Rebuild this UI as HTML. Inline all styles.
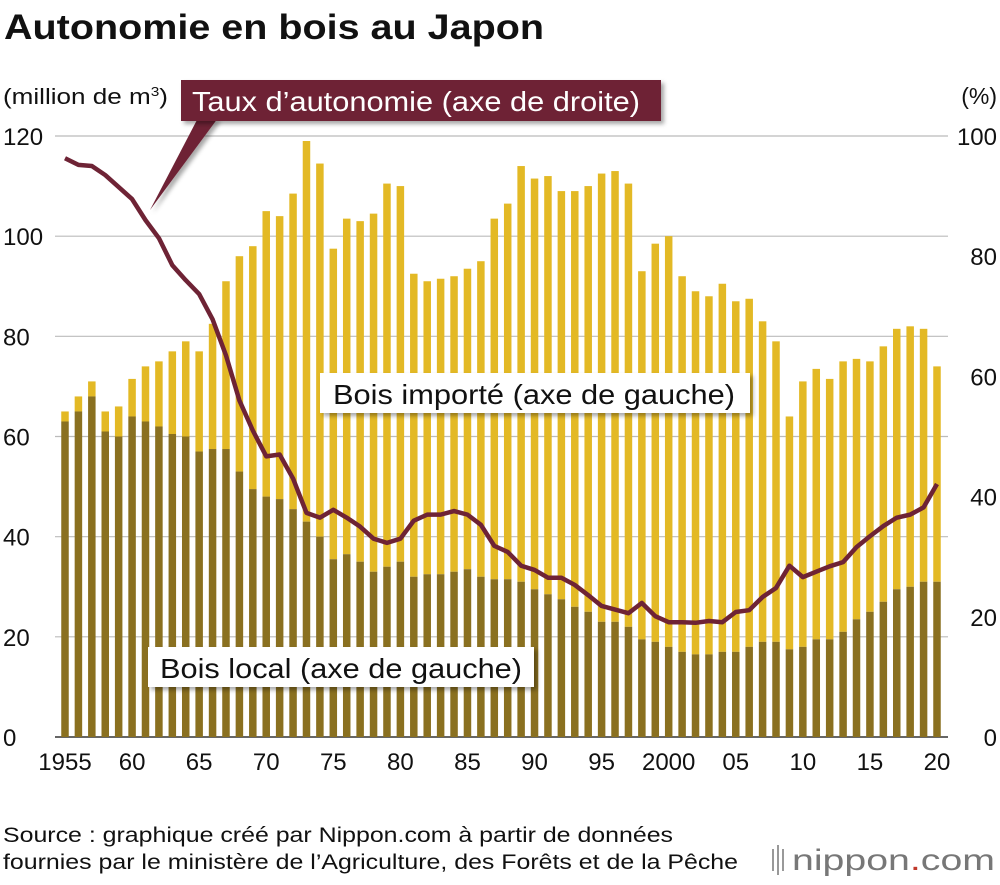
<!DOCTYPE html>
<html><head><meta charset="utf-8"><style>
body{margin:0;background:#fff;font-family:"Liberation Sans",Arial,sans-serif;}
svg text{font-family:"Liberation Sans",Arial,sans-serif;}
</style></head><body>
<svg width="1000" height="880" viewBox="0 0 1000 880">
<defs><filter id="sh" x="-5%" y="-20%" width="115%" height="160%"><feDropShadow dx="3" dy="3" stdDeviation="2" flood-color="#000" flood-opacity="0.35"/></filter></defs>
<text x="4" y="39" font-size="35" font-weight="bold" fill="#111" textLength="540" lengthAdjust="spacingAndGlyphs">Autonomie en bois au Japon</text>
<text x="3" y="104" font-size="22" fill="#111" textLength="165" lengthAdjust="spacingAndGlyphs">(million de m<tspan font-size="13" dy="-8">3</tspan><tspan dy="8">)</tspan></text>
<text x="997" y="104" font-size="23" fill="#111" text-anchor="end">(%)</text>
<g id="grid"></g><g id="bars"></g><g id="line"></g><g id="ticks"></g>
<polygon points="198,118 218,118 150,210" fill="#6e2335" filter="url(#sh)"/>
<rect x="181" y="80" width="480" height="41" fill="#6e2335" filter="url(#sh)"/>
<text x="192" y="111" font-size="28" fill="#fff" textLength="448" lengthAdjust="spacingAndGlyphs">Taux d’autonomie (axe de droite)</text>
<rect x="320" y="373" width="430" height="40" fill="#fff" filter="url(#sh)"/>
<text x="333" y="404" font-size="28" fill="#111" textLength="402" lengthAdjust="spacingAndGlyphs">Bois importé (axe de gauche)</text>
<rect x="148" y="647" width="386" height="40" fill="#fff" filter="url(#sh)"/>
<text x="160" y="678" font-size="28" fill="#111" textLength="362" lengthAdjust="spacingAndGlyphs">Bois local (axe de gauche)</text>
<text x="3" y="842" font-size="21" fill="#111" textLength="670" lengthAdjust="spacingAndGlyphs">Source : graphique créé par Nippon.com à partir de données</text>
<text x="3" y="869" font-size="21" fill="#111" textLength="735" lengthAdjust="spacingAndGlyphs">fournies par le ministère de l’Agriculture, des Forêts et de la Pêche</text>
<g>
<rect x="772" y="849" width="2" height="22" fill="#999"/><rect x="777" y="845" width="2" height="30" fill="#999"/><rect x="782" y="849" width="2" height="22" fill="#999"/>
<text x="792" y="870" font-size="30" fill="#777" textLength="203" lengthAdjust="spacingAndGlyphs">nippon<tspan fill="#c0392b">.</tspan>com</text></g>
</svg>
<script>
const years=[];for(let y=1955;y<=2020;y++)years.push(y);
const totalVol=[65,68,71,65,66,71.5,74,75,77,79,77,82.5,91,96,98,105,104,108.5,119,114.5,97.5,103.5,103,104.5,110.5,110,92.5,91,91.5,92,93.5,95,103.5,106.5,114,111.5,112,109,109,110,112.5,113,110.5,93,98.5,100,92,89,88,90.5,87,87.5,83,79,64,71,73.5,71.5,75,75.5,75,78,81.5,82,81.5,74];
const localVol=[63,65,68,61,60,64,63,62,60.5,60,57,57.5,57.5,53,49.5,48,47.5,45.5,43,40,35.5,36.5,35,33,34,35,32,32.5,32.5,33,33.5,32,31.5,31.5,31,29.5,28.5,27.5,26,25,23,23,22,19.5,19,18,17,16.5,16.5,17,17,18,19,19,17.5,18,19.5,19.5,21,23.5,25,27,29.5,30,31,31];
const selfRate=[96.3,95.2,95,93.5,91.5,89.5,86,83,78.5,76,73.7,69.5,63.5,56,51,46.7,47,43,37.3,36.5,37.8,36.5,35,33,32.3,33,36,37,37,37.6,37,35.3,31.8,30.8,28.5,27.8,26.5,26.5,25.3,23.6,21.8,21.2,20.6,22.3,20.1,19.1,19.1,19,19.3,19.1,20.8,21.1,23.3,24.8,28.5,26.6,27.5,28.4,29.1,31.6,33.4,35.1,36.5,37,38.2,42.1];
const leftTicks=[0,20,40,60,80,100,120];
const rightTicks=[0,20,40,60,80,100];
const xTickYears=[1955,1960,1965,1970,1975,1980,1985,1990,1995,2000,2005,2010,2015,2020];
const xTickLabels=["1955","60","65","70","75","80","85","90","95","2000","05","10","15","20"];
const NS="http://www.w3.org/2000/svg";
const x=y=>65+(y-1955)*(872/65);
const yL=v=>737-v*(601/120);
const yR=v=>737-v*(601/100);
function mk(t,a,p){const e=document.createElementNS(NS,t);for(const k in a)e.setAttribute(k,a[k]);p.appendChild(e);return e;}
const G=document.getElementById('grid'),B=document.getElementById('bars'),L=document.getElementById('line'),T=document.getElementById('ticks');
leftTicks.forEach(v=>{const l=mk('line',{x1:55,x2:948,y1:yL(v),y2:yL(v),stroke:v==0?'#333':'#bbb','stroke-width':v==0?1.5:1.2},G);


const t=mk('text',{x:3,y:yL(v)+9,'font-size':24,fill:'#111'},T);t.textContent=v;

});
rightTicks.forEach(v=>{const t=mk('text',{x:997,y:yR(v)+9,'font-size':24,fill:'#111','text-anchor':'end'},T);t.textContent=v;

});
xTickYears.forEach((yr,i)=>{const t=mk('text',{x:x(yr),y:770,'font-size':24,fill:'#111','text-anchor':'middle'},T);t.textContent=xTickLabels[i];

});
years.forEach((yr,i)=>{const bw=7.5;
const a=mk('rect',{x:x(yr)-bw/2,y:yL(totalVol[i]),width:bw,height:yL(localVol[i])-yL(totalVol[i]),fill:'#e3b925'},B);


const b=mk('rect',{x:x(yr)-bw/2,y:yL(localVol[i]),width:bw,height:737-yL(localVol[i]),fill:'#8a7020'},B);

});
const p=mk('polyline',{points:years.map((yr,i)=>x(yr)+','+yR(selfRate[i])).join(' '),fill:'none',stroke:'#6e2335','stroke-width':4.5,'stroke-linejoin':'round'},L);


</script>
</body></html>
